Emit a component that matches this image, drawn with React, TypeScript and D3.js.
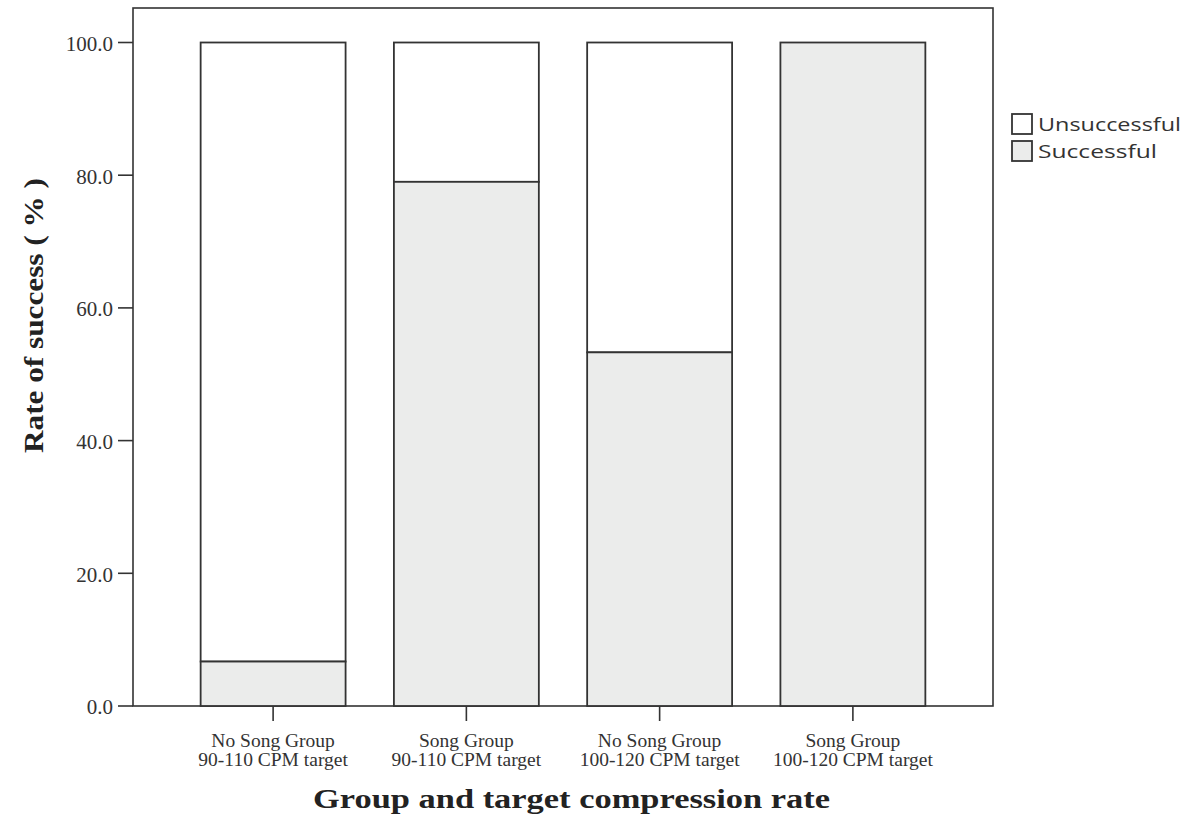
import React from "react";
import * as d3 from "d3";

const categories = [
  ["No Song Group", "90-110 CPM target"],
  ["Song Group", "90-110 CPM target"],
  ["No Song Group", "100-120 CPM target"],
  ["Song Group", "100-120 CPM target"],
];
const successful = [6.7, 79.0, 53.3, 100.0];
const yTicks = [0, 20, 40, 60, 80, 100];
const legendItems = ["Unsuccessful", "Successful"];

const W = 1190;
const H = 816;
const L = 133, R = 993, T = 8, B = 706;
const FILL_S = "#ebeceb";
const STROKE = "#333";

export default function App() {
  const keys = categories.map((c) => c.join(" "));
  const x = d3.scaleBand().domain(keys).range([L, R]).paddingInner(0.25).paddingOuter(0.35);
  const y = d3.scaleLinear().domain([0, 100]).range([B, 42.5]);
  const serif = "'Liberation Serif', 'Times New Roman', serif";
  const sans = "'Open Sans', 'DejaVu Sans', sans-serif";
  return (
    <svg width={W} height={H} style={{ position: "absolute", left: 0, top: 0 }}>
      <rect x={0} y={0} width={W} height={H} fill="#fff" />
      <rect x={L} y={T} width={R - L} height={B - T} fill="none" stroke={STROKE} strokeWidth={1.6} />
      {keys.map((k, i) => {
        const x0 = x(k)!;
        const bw = x.bandwidth();
        return (
          <g key={k}>
            <rect x={x0} y={y(100)} width={bw} height={y(successful[i]) - y(100)} fill="#fff" stroke={STROKE} strokeWidth={1.8} />
            <rect x={x0} y={y(successful[i])} width={bw} height={y(0) - y(successful[i])} fill={FILL_S} stroke={STROKE} strokeWidth={1.8} />
          </g>
        );
      })}
      {yTicks.map((t) => (
        <g key={t}>
          <line x1={L - 15} x2={L} y1={y(t)} y2={y(t)} stroke={STROKE} strokeWidth={1.6} />
          <text x={L - 20} y={y(t) + 1} dy="0.35em" textAnchor="end" fontFamily={serif} fontSize={21} fill="#333">
            {d3.format(".1f")(t)}
          </text>
        </g>
      ))}
      {keys.map((k, i) => {
        const cx = x(k)! + x.bandwidth() / 2;
        return (
          <g key={k}>
            <line x1={cx} x2={cx} y1={B} y2={B + 15} stroke={STROKE} strokeWidth={1.6} />
            <text x={cx} y={747} textAnchor="middle" fontFamily={serif} fontSize={19.5} fill="#333">
              {categories[i][0]}
            </text>
            <text x={cx} y={766} textAnchor="middle" fontFamily={serif} fontSize={19.5} fill="#333">
              {categories[i][1]}
            </text>
          </g>
        );
      })}
      <text x={313} y={808} textLength={517} lengthAdjust="spacingAndGlyphs" fontFamily={serif} fontWeight="bold" fontSize={28} fill="#222">
        Group and target compression rate
      </text>
      <text transform={`translate(43, 453) rotate(-90)`} textLength={275} lengthAdjust="spacingAndGlyphs" fontFamily={serif} fontWeight="bold" fontSize={28} fill="#222">
        Rate of success ( % )
      </text>
      {legendItems.map((s, i) => (
        <g key={s}>
          <rect x={1012} y={114 + i * 27} width={20} height={20} fill={i === 0 ? "#fff" : FILL_S} stroke={STROKE} strokeWidth={1.8} />
          <text x={1038} y={131 + i * 27} textLength={i === 0 ? 143 : 119} lengthAdjust="spacingAndGlyphs" fontFamily={sans} fontSize={19} fill="#333">
            {s}
          </text>
        </g>
      ))}
    </svg>
  );
}
